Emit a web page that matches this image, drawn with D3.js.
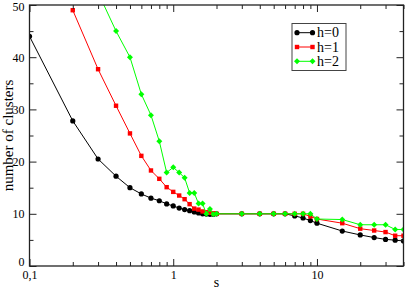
<!DOCTYPE html>
<html>
<head>
<meta charset="utf-8">
<script src="https://cdn.jsdelivr.net/npm/d3@7"></script>
<style>
  body { margin: 0; background: #fff; }
</style>
</head>
<body>
<svg id="chart" width="407" height="291"></svg>
<script>
// data
const sH0 = [0.1, 0.2, 0.3, 0.4, 0.5, 0.6, 0.7, 0.8, 0.9, 1.0, 1.1, 1.2, 1.3, 1.4, 1.5, 1.6, 1.7, 1.8, 1.9, 2,
  3, 4, 5, 6, 7, 8, 9, 10, 15, 20, 25, 30, 35, 40];
const nH0 = [44, 27.8, 20.5, 17.2, 15.0, 13.8, 13.0, 12.5, 11.9, 11.5, 11.1, 10.8, 10.6, 10.35, 10.15, 10.0, 9.95, 9.9, 9.9, 10.0,
  10, 10, 10, 10, 9.6, 9.2, 8.7, 8.2, 6.7, 5.95, 5.45, 5.1, 4.95, 4.8];

const sH1 = [0.2, 0.3, 0.4, 0.5, 0.6, 0.7, 0.8, 0.9, 1.0, 1.1, 1.2, 1.3, 1.4, 1.5, 1.6, 1.7, 1.8, 1.9, 2,
  3, 4, 5, 6, 7, 8, 9, 10, 15, 20, 25, 30, 35, 40];
const nH1 = [49.0, 37.7, 30.7, 25.4, 21.1, 18.3, 16.7, 15.1, 14.2, 13.5, 12.8, 11.85, 11.0, 10.8, 10.45, 10.3, 10.2, 10.1, 10.0,
  10, 10, 10, 10, 10, 10.0, 9.5, 9.0, 8.2, 7.15, 6.8, 6.5, 5.8, 5.8];

const sH2 = [0.3, 0.4, 0.5, 0.6, 0.7, 0.8, 0.9, 1.0, 1.1, 1.2, 1.3, 1.4, 1.5, 1.6, 1.7, 1.8, 1.9, 2,
  3, 4, 5, 6, 7, 8, 9, 10, 15, 20, 25, 30, 35, 40];
const nH2 = [52.4, 45.0, 40.0, 32.9, 28.9, 23.9, 17.9, 18.9, 17.9, 16.9, 14.0, 14.0, 11.95, 11.95, 10.0, 10.9, 9.9, 10.0,
  10, 10, 10, 10, 10, 10, 10, 9.0, 8.9, 7.9, 7.9, 7.9, 7.0, 7.0];

const seriesNames = ["h=0", "h=1", "h=2"];
const seriesColors = ["#000000", "#ff0000", "#00ff00"];
const xMajorTicks = [0.1, 1, 10];
const xTickLabels = ["0,1", "1", "10"];
const yMajorTicks = [0, 10, 20, 30, 40, 50];
const yMinorTicks = [5, 15, 25, 35, 45];

// layout
const plotLeft = 29.5, plotRight = 403.5, plotTop = 5, plotBottom = 266;
const serif = '"Liberation Serif", "Times New Roman", Times, "DejaVu Serif", serif';

const svg = d3.select('#chart');

const x = d3.scaleLog().domain([0.1, 40]).range([plotLeft, plotRight]);
const y = d3.scaleLinear().domain([0, 50]).range([plotBottom, plotTop]);

// minor ticks on the log axis: 2..9 of each decade
const xMinorTicks = [];
[0.1, 1, 10].forEach(function(d) {
  for (let k = 2; k <= 9; k++) {
    const v = d * k;
    if (v <= 40) xMinorTicks.push(v);
  }
});

const series = [
  {name: seriesNames[0], color: seriesColors[0], shape: 'circle',
    data: sH0.map((s, i) => ({s: s, n: nH0[i]}))},
  {name: seriesNames[1], color: seriesColors[1], shape: 'square',
    data: sH1.map((s, i) => ({s: s, n: nH1[i]}))},
  {name: seriesNames[2], color: seriesColors[2], shape: 'diamond',
    data: sH2.map((s, i) => ({s: s, n: nH2[i]}))}
];

svg.append('defs').append('clipPath')
    .attr('id', 'plot-clip')
    .append('rect')
    .attr('x', plotLeft)
    .attr('y', plotTop)
    .attr('width', plotRight - plotLeft)
    .attr('height', plotBottom - plotTop);

function drawMarker(g, shape, color, cx, cy) {
  if (shape === 'circle') {
    g.append('circle').attr('cx', cx).attr('cy', cy).attr('r', 2.6).attr('fill', color);
  } else if (shape === 'square') {
    g.append('rect').attr('x', cx - 2.2).attr('y', cy - 2.2)
        .attr('width', 4.4).attr('height', 4.4).attr('fill', color);
  } else {
    g.append('path')
        .attr('d', 'M' + cx + ',' + (cy - 3) + 'L' + (cx + 3) + ',' + cy +
            'L' + cx + ',' + (cy + 3) + 'L' + (cx - 3) + ',' + cy + 'Z')
        .attr('fill', color);
  }
}

// series
const plot = svg.append('g').attr('clip-path', 'url(#plot-clip)');
const line = d3.line().x(d => x(d.s)).y(d => y(d.n));

series.forEach(function(ser) {
  plot.append('path')
      .datum(ser.data)
      .attr('d', line)
      .attr('fill', 'none')
      .attr('stroke', ser.color)
      .attr('stroke-width', 1);
  const mg = plot.append('g');
  ser.data.forEach(function(d) {
    drawMarker(mg, ser.shape, ser.color, x(d.s), y(d.n));
  });
});

// axes (ticks point inward, mirrored on top and right)
const axisColor = '#222';

function styleAxis(g) {
  g.select('.domain').remove();
  g.attr('font-family', serif).attr('font-size', 12);
  g.selectAll('line').attr('stroke', axisColor).attr('stroke-width', 1);
  g.selectAll('text').attr('fill', '#000');
}

// bottom
svg.append('g')
    .attr('transform', 'translate(0,' + plotBottom + ')')
    .call(d3.axisBottom(x).tickValues(xMinorTicks).tickSize(-4).tickFormat(''))
    .call(styleAxis);
svg.append('g')
    .attr('transform', 'translate(0,' + plotBottom + ')')
    .call(d3.axisBottom(x).tickValues(xMajorTicks).tickSize(-7)
        .tickFormat((d, i) => xTickLabels[i]))
    .call(styleAxis)
    .selectAll('text')
    .attr('y', 4)
    .attr('dy', '0.75em');

// top
svg.append('g')
    .attr('transform', 'translate(0,' + plotTop + ')')
    .call(d3.axisTop(x).tickValues(xMinorTicks).tickSize(-4).tickFormat(''))
    .call(styleAxis);
svg.append('g')
    .attr('transform', 'translate(0,' + plotTop + ')')
    .call(d3.axisTop(x).tickValues(xMajorTicks).tickSize(-7).tickFormat(''))
    .call(styleAxis);

// left
svg.append('g')
    .attr('transform', 'translate(' + plotLeft + ',0)')
    .call(d3.axisLeft(y).tickValues(yMinorTicks).tickSize(-4).tickFormat(''))
    .call(styleAxis);
svg.append('g')
    .attr('transform', 'translate(' + plotLeft + ',0)')
    .call(d3.axisLeft(y).tickValues(yMajorTicks).tickSize(-7).tickFormat(d3.format('d')))
    .call(styleAxis)
    .selectAll('text')
    .attr('x', -5)
    .attr('dy', d => d === 0 ? '-0.05em' : (d === 50 ? '0.45em' : '0.32em'));

// right
svg.append('g')
    .attr('transform', 'translate(' + plotRight + ',0)')
    .call(d3.axisRight(y).tickValues(yMinorTicks).tickSize(-4).tickFormat(''))
    .call(styleAxis);
svg.append('g')
    .attr('transform', 'translate(' + plotRight + ',0)')
    .call(d3.axisRight(y).tickValues(yMajorTicks).tickSize(-7).tickFormat(''))
    .call(styleAxis);

// frame
svg.append('rect')
    .attr('x', plotLeft)
    .attr('y', plotTop)
    .attr('width', plotRight - plotLeft)
    .attr('height', plotBottom - plotTop)
    .attr('fill', 'none')
    .attr('stroke', axisColor)
    .attr('stroke-width', 1.3);

// axis titles
svg.append('text')
    .attr('x', (plotLeft + plotRight) / 2)
    .attr('y', 287)
    .attr('text-anchor', 'middle')
    .attr('font-family', serif)
    .attr('font-size', 14)
    .text('s');

svg.append('text')
    .attr('transform', 'translate(13,' + ((plotTop + plotBottom) / 2) + ')rotate(-90)')
    .attr('text-anchor', 'middle')
    .attr('font-family', serif)
    .attr('font-size', 15)
    .text('number of clusters');

// legend
const legend = svg.append('g');
legend.append('rect')
    .attr('x', 292)
    .attr('y', 23.5)
    .attr('width', 54)
    .attr('height', 47)
    .attr('fill', '#fff')
    .attr('stroke', '#444')
    .attr('stroke-width', 1);

series.forEach(function(ser, i) {
  const ly = 32.7 + i * 14.3;
  legend.append('line')
      .attr('x1', 297).attr('x2', 312.5)
      .attr('y1', ly).attr('y2', ly)
      .attr('stroke', ser.color)
      .attr('stroke-width', 1);
  drawMarker(legend, ser.shape, ser.color, 297, ly);
  drawMarker(legend, ser.shape, ser.color, 312.5, ly);
  legend.append('text')
      .attr('x', 317)
      .attr('y', ly + 4.5)
      .attr('font-family', serif)
      .attr('font-size', 14)
      .text(ser.name);
});
</script>
</body>
</html>
